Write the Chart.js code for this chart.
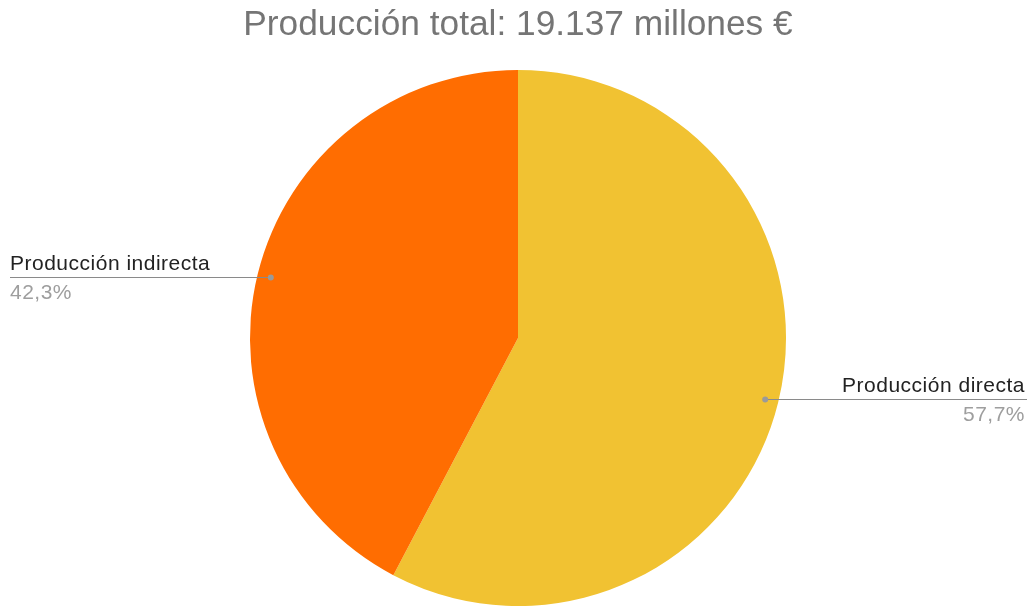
<!DOCTYPE html>
<html>
<head>
<meta charset="utf-8">
<script src="https://cdn.jsdelivr.net/npm/chart.js@4.4.1/dist/chart.umd.min.js"></script>
<style>
  html, body { margin: 0; padding: 0; background: #ffffff; }
  #wrap { width: 1032px; height: 607px; }
</style>
</head>
<body>
<div id="wrap"><canvas id="c" width="1032" height="607"></canvas></div>
<script>
const titleText = 'Producción total: 19.137 millones €';
const categories = ['Producción directa', 'Producción indirecta'];
const shares = [57.7, 42.3];
const percentLabels = ['57,7%', '42,3%'];
const sliceColors = ['#F1C232', '#FF6D01'];

const FONT = '"Liberation Sans", Arial, sans-serif';

// Leader lines with category name above and percentage below
const leaderLabels = {
  id: 'leaderLabels',
  afterDatasetsDraw(chart) {
    const ctx = chart.ctx;
    const meta = chart.getDatasetMeta(0);
    meta.data.forEach((arc, i) => {
      const mid = (arc.startAngle + arc.endAngle) / 2;
      const r = arc.outerRadius * 0.95;
      const px = arc.x + Math.cos(mid) * r;
      const py = Math.round(arc.y + Math.sin(mid) * r) + 0.5;
      const left = px < arc.x;
      const edge = left ? 10 : 1027;
      const tx = left ? 10 : 1025;
      ctx.save();
      ctx.strokeStyle = '#8a8a8a';
      ctx.lineWidth = 1.2;
      ctx.beginPath();
      ctx.moveTo(px, py);
      ctx.lineTo(edge, py);
      ctx.stroke();
      ctx.fillStyle = '#9a9a9a';
      ctx.beginPath();
      ctx.arc(px, py, 3, 0, Math.PI * 2);
      ctx.fill();
      ctx.textAlign = left ? 'left' : 'right';
      ctx.textBaseline = 'alphabetic';
      ctx.font = '21px ' + FONT;
      if ('letterSpacing' in ctx) ctx.letterSpacing = '0.5px';
      ctx.fillStyle = '#222222';
      ctx.fillText(categories[i], tx, py - 8);
      ctx.fillStyle = '#9e9e9e';
      ctx.fillText(percentLabels[i], tx, py + 21.5);
      ctx.restore();
    });
  }
};

new Chart(document.getElementById('c'), {
  type: 'pie',
  data: {
    labels: categories,
    datasets: [{
      data: shares,
      backgroundColor: sliceColors,
      borderWidth: 0
    }]
  },
  options: {
    responsive: false,
    animation: false,
    layout: { padding: { left: 4, right: 0, top: 0, bottom: 1 } },
    plugins: {
      legend: { display: false },
      tooltip: { enabled: false },
      title: {
        display: true,
        text: titleText,
        color: '#757575',
        font: { family: FONT, size: 35.3, weight: 'normal', lineHeight: 1.2 },
        padding: { top: 4, bottom: 23.6 }
      }
    }
  },
  plugins: [leaderLabels]
});
</script>
</body>
</html>
